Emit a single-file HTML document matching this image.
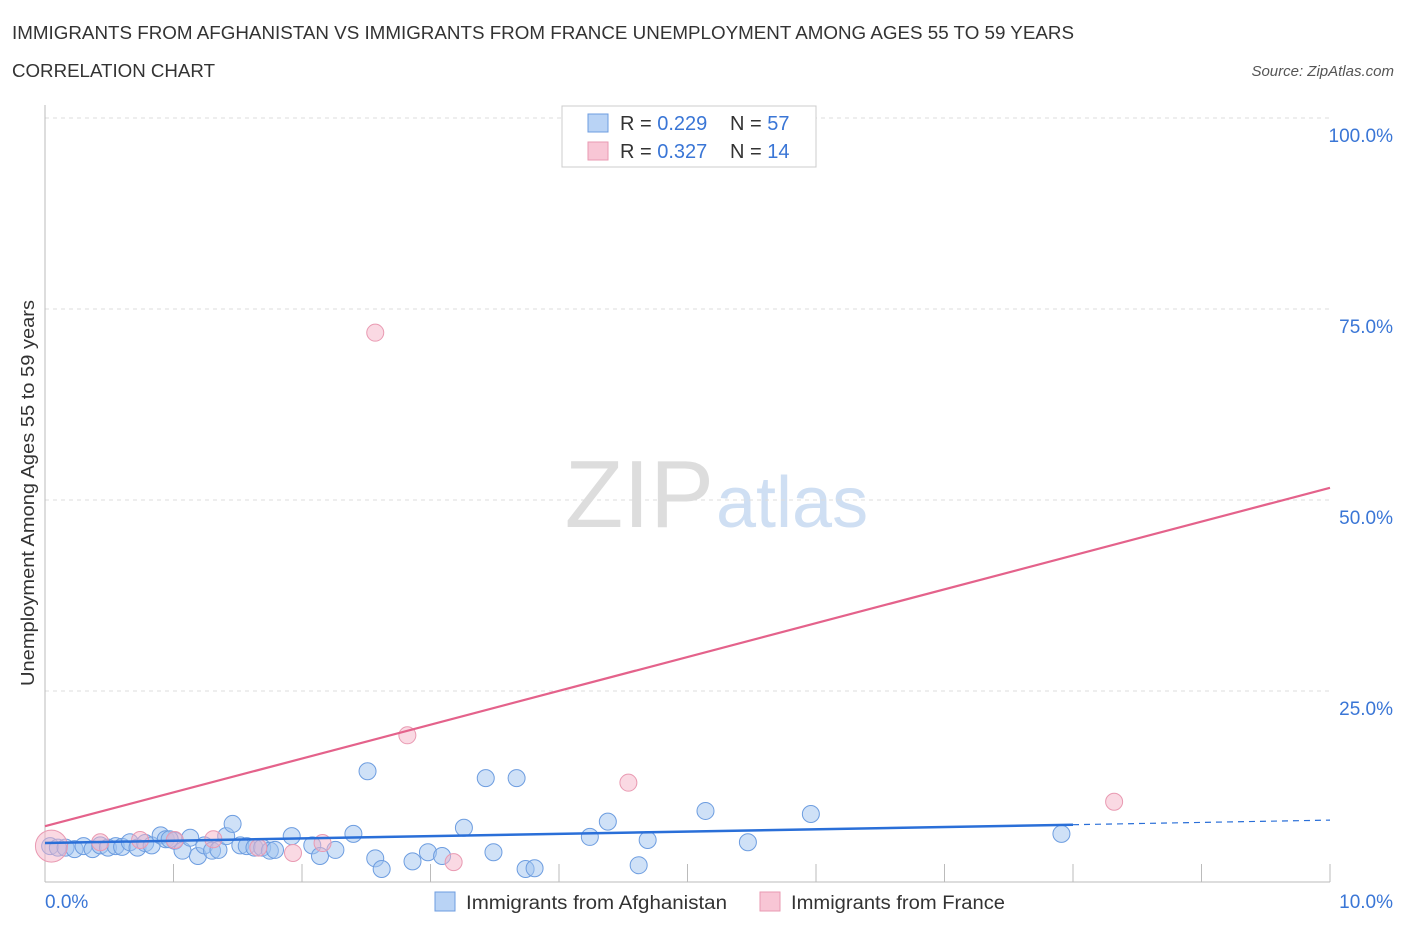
<!DOCTYPE html>
<html><head><meta charset="utf-8"><style>
body{margin:0;background:#fff;font-family:"Liberation Sans",sans-serif;}
svg text{font-family:"Liberation Sans",sans-serif;}
</style></head><body>
<svg id="c" width="1406" height="930">
<text x="12" y="39" font-size="18" fill="#333" textLength="1062" lengthAdjust="spacingAndGlyphs">IMMIGRANTS FROM AFGHANISTAN VS IMMIGRANTS FROM FRANCE UNEMPLOYMENT AMONG AGES 55 TO 59 YEARS</text>
<text x="12" y="77" font-size="18" fill="#333" textLength="203" lengthAdjust="spacingAndGlyphs">CORRELATION CHART</text>
<text x="1394" y="76" font-size="15" fill="#555" font-style="italic" text-anchor="end">Source: ZipAtlas.com</text>
<text x="714" y="527" font-size="96" fill="#ddd" text-anchor="end" font-family="Liberation Serif">ZIP</text>
<text x="716" y="527" font-size="72" fill="#cfdff3">atlas</text>
<text transform="translate(34,493) rotate(-90)" font-size="18" fill="#333" text-anchor="middle" textLength="386" lengthAdjust="spacingAndGlyphs">Unemployment Among Ages 55 to 59 years</text>
<g id="grid"></g><g id="marks"></g>
<g>
<rect x="562" y="106" width="254" height="61" fill="#fff" stroke="#ccc"/>
<rect x="588" y="114" width="20" height="18" fill="#b9d3f5" stroke="#6d9de0"/>
<rect x="588" y="142" width="20" height="18" fill="#f8c6d5" stroke="#e99ab2"/>
<text x="620" y="130" font-size="20" fill="#333">R = <tspan fill="#3a76d6">0.229</tspan></text>
<text x="730" y="130" font-size="20" fill="#333">N = <tspan fill="#3a76d6">57</tspan></text>
<text x="620" y="158" font-size="20" fill="#333">R = <tspan fill="#3a76d6">0.327</tspan></text>
<text x="730" y="158" font-size="20" fill="#333">N = <tspan fill="#3a76d6">14</tspan></text>
</g>
<g>
<rect x="435" y="892" width="20" height="19" fill="#b9d3f5" stroke="#6d9de0"/>
<text x="466" y="909" font-size="19" fill="#333" textLength="261" lengthAdjust="spacingAndGlyphs">Immigrants from Afghanistan</text>
<rect x="760" y="892" width="20" height="19" fill="#f8c6d5" stroke="#e99ab2"/>
<text x="791" y="909" font-size="19" fill="#333" textLength="214" lengthAdjust="spacingAndGlyphs">Immigrants from France</text>
</g>
</svg>
<script>
const xTicks=[0,1,2,3,4,5,6,7,8,9,10];
const yTicks=[25,50,75,100];
const blueX=[0.04,0.10,0.16,0.23,0.30,0.37,0.43,0.49,0.55,0.60,0.66,0.72,0.78,0.83,0.90,0.94,1.01,1.07,1.13,1.19,1.24,1.30,1.35,1.41,1.46,1.52,1.57,1.63,1.69,1.75,1.79,1.92,2.08,2.14,2.26,2.40,2.51,2.57,2.62,2.86,2.98,3.09,3.26,3.43,3.49,3.67,3.74,3.81,4.24,4.38,4.62,4.69,5.14,5.47,5.96,7.91,0.97];
const blueY=[4.7,4.5,4.5,4.3,4.7,4.3,4.8,4.5,4.7,4.6,5.2,4.5,5.1,4.8,6.1,5.6,5.4,4.1,5.8,3.4,4.8,4.1,4.2,6.0,7.6,4.8,4.7,4.5,4.5,4.1,4.2,6.0,4.8,3.4,4.2,6.3,14.5,3.1,1.7,2.7,3.9,3.4,7.1,13.6,3.9,13.6,1.7,1.8,5.9,7.9,2.2,5.5,9.3,5.2,8.9,6.3,5.6];
const pinkX=[0.05,0.43,0.74,1.01,1.31,1.66,1.93,2.16,2.57,2.82,3.18,4.54,8.32,4.88];
const pinkY=[4.7,5.2,5.5,5.5,5.6,4.5,3.8,5.1,71.9,19.2,2.6,13.0,10.5,100];
const blueTrend=[5.1,8.1];
const pinkTrend=[7.3,51.6];
const X=v=>45+v*128.5, Y=v=>882-v*7.64;
const NS="http://www.w3.org/2000/svg";
const grid=document.getElementById('grid'), marks=document.getElementById('marks');
function mk(tag,attrs,parent){const e=document.createElementNS(NS,tag);for(const k in attrs)e.setAttribute(k,attrs[k]);parent.appendChild(e);return e;}
for(const t of yTicks){
 const l=mk('line',{x1:45,x2:1330,y1:Y(t),y2:Y(t),stroke:'#ddd','stroke-dasharray':'4,4'},grid);
 
 
 const tx=mk('text',{x:1393,y:Y(t)+24,'font-size':19,fill:'#3a76d6','text-anchor':'end'},grid);tx.textContent=t.toFixed(1)+'%';
 
 
}
const ax=mk('line',{x1:45,x2:1330,y1:882,y2:882,stroke:'#bbb'},grid);


const ay=mk('line',{x1:45,x2:45,y1:105,y2:882,stroke:'#bbb'},grid);


for(const t of xTicks){if(t===0)continue;
 const l=mk('line',{x1:X(t),x2:X(t),y1:864,y2:882,stroke:'#bbb'},grid);
 
 }
const xl0=mk('text',{x:45,y:908,'font-size':19,fill:'#3a76d6'},grid);xl0.textContent='0.0%';


const xl1=mk('text',{x:1393,y:908,'font-size':19,fill:'#3a76d6','text-anchor':'end'},grid);xl1.textContent='10.0%';


blueX.forEach((x,i)=>{const c=mk('circle',{cx:X(x),cy:Y(blueY[i]),r:8.5,fill:'rgba(160,196,240,0.5)',stroke:'#6d9de0','stroke-width':1},marks);
 
 });
pinkX.forEach((x,i)=>{const c=mk('circle',{cx:X(x),cy:Y(pinkY[i]),r:i===0?16:8.5,fill:'rgba(246,180,200,0.5)',stroke:'#e99ab2','stroke-width':1},marks);
 
 });
const bAt=x=>blueTrend[0]+(blueTrend[1]-blueTrend[0])*x/10;
const b1=mk('line',{x1:X(0),y1:Y(bAt(0)),x2:X(8),y2:Y(bAt(8)),stroke:'#2a6fd8','stroke-width':2.5},marks);


const b2=mk('line',{x1:X(8),y1:Y(bAt(8)),x2:X(10),y2:Y(bAt(10)),stroke:'#2a6fd8','stroke-width':1.2,'stroke-dasharray':'6,5'},marks);


const p1=mk('line',{x1:X(0),y1:Y(pinkTrend[0]),x2:X(10),y2:Y(pinkTrend[1]),stroke:'#e4628b','stroke-width':2.2},marks);


</script>
</body></html>
